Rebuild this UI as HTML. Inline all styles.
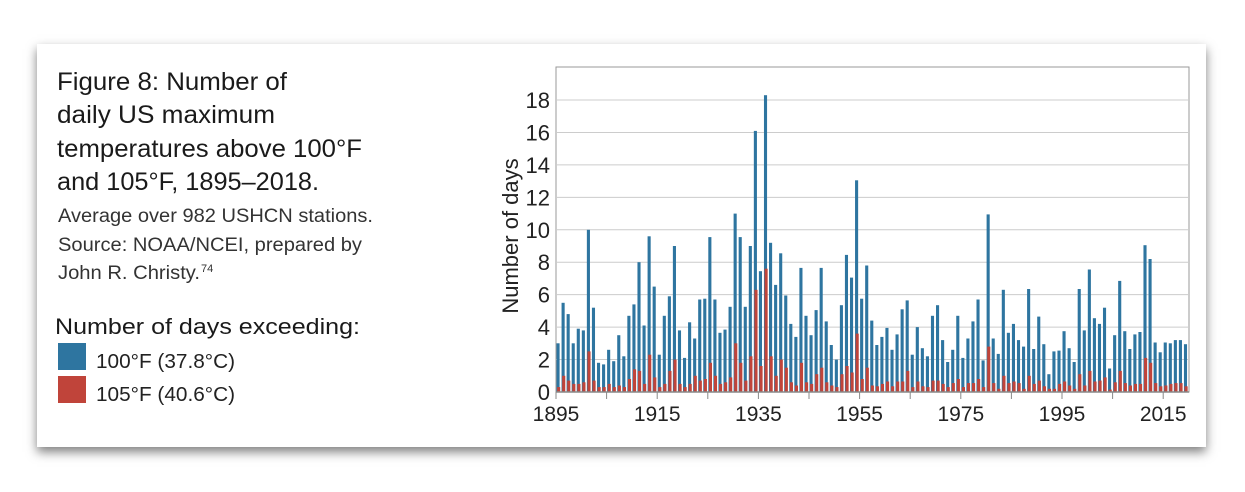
<!DOCTYPE html>
<html><head><meta charset="utf-8"><style>
body{margin:0;background:#fff;width:1245px;height:492px;overflow:hidden;font-family:"Liberation Sans",sans-serif}
.card{position:absolute;left:37px;top:44px;width:1169px;height:403px;background:#fff;box-shadow:0 5px 10px rgba(0,0,0,0.5)}
</style></head><body>
<div class="card"></div>
<svg width="1245" height="492" style="position:absolute;left:0;top:0" font-family="Liberation Sans, sans-serif">
<g fill="#1a1a1a" font-size="25">
<text x="57" y="90" textLength="230" lengthAdjust="spacingAndGlyphs">Figure 8: Number of</text>
<text x="57" y="123" textLength="218" lengthAdjust="spacingAndGlyphs">daily US maximum</text>
<text x="57" y="157" textLength="305" lengthAdjust="spacingAndGlyphs">temperatures above 100°F</text>
<text x="57" y="190" textLength="262" lengthAdjust="spacingAndGlyphs">and 105°F, 1895–2018.</text>
</g>
<g fill="#333" font-size="19">
<text x="58" y="222" textLength="315" lengthAdjust="spacingAndGlyphs">Average over 982 USHCN stations.</text>
<text x="58" y="251" textLength="304" lengthAdjust="spacingAndGlyphs">Source: NOAA/NCEI, prepared by</text>
<text x="58" y="279" textLength="142" lengthAdjust="spacingAndGlyphs">John R. Christy.</text><text x="201" y="272" font-size="11">74</text>
</g>
<text x="55" y="334" font-size="22" fill="#1a1a1a" textLength="305" lengthAdjust="spacingAndGlyphs">Number of days exceeding:</text>
<rect x="58" y="343" width="28" height="27" fill="#2e75a0"/>
<rect x="58" y="376" width="28" height="27" fill="#c0443a"/>
<g font-size="20" fill="#222"><text x="96" y="368" textLength="139" lengthAdjust="spacingAndGlyphs">100°F (37.8°C)</text><text x="96" y="401" textLength="139" lengthAdjust="spacingAndGlyphs">105°F (40.6°C)</text></g>
<g id="plot"></g>
</svg>
<script>
var B=[3.0,5.5,4.8,3.0,3.9,3.8,10.0,5.2,1.8,1.7,2.6,1.9,3.5,2.2,4.7,5.4,8.0,4.1,9.6,6.5,2.3,4.7,5.9,
9.0,3.8,2.1,4.3,3.3,5.7,5.75,9.55,5.7,3.65,3.85,5.25,11.0,9.55,5.25,9.0,16.1,7.45,18.3,9.2,6.6,8.55,5.95,4.2,3.4,7.65,4.7,3.5,5.05,7.65,4.35,2.9,2.0,5.35,8.45,7.05,13.05,5.75,7.8,
4.4,2.9,3.4,3.95,2.6,3.55,5.1,5.65,2.3,4.0,2.7,2.2,4.7,5.35,3.2,1.85,2.6,4.7,2.1,3.3,4.35,5.7,1.95,10.95,3.3,2.35,6.3,3.65,4.2,3.2,2.8,6.35,2.65,4.65,2.95,1.1,2.5,2.55,3.75,2.7,1.85,6.35,3.8,7.55,4.55,4.2,5.2,1.45,3.5,6.85,3.75,2.65,3.55,3.7,9.05,8.2,3.05,2.45,3.05,3.0,3.2,3.2,2.95];
var R=[0.3,1.0,0.7,0.5,0.5,0.6,2.5,0.7,0.3,0.3,0.5,0.3,0.4,0.3,0.8,1.4,1.3,0.5,2.3,0.9,0.3,0.5,1.3,
2.0,0.5,0.3,0.5,1.0,0.7,0.8,1.8,1.0,0.5,0.6,0.9,3.0,1.8,0.7,2.2,6.3,1.6,7.6,2.2,1.0,2.0,1.5,0.6,0.4,1.8,0.6,0.5,1.1,1.5,0.6,0.4,0.3,1.1,1.6,1.2,3.6,0.8,1.5,
0.4,0.35,0.5,0.65,0.35,0.65,0.65,1.3,0.3,0.65,0.35,0.3,0.7,0.7,0.5,0.3,0.55,0.8,0.3,0.55,0.55,0.8,0.3,2.8,0.55,0.2,1.0,0.55,0.65,0.55,0.2,1.0,0.5,0.7,0.35,0.2,0.2,0.5,0.65,0.4,0.2,1.1,0.4,1.3,0.65,0.7,0.9,0.15,0.6,1.3,0.55,0.4,0.5,0.5,2.1,1.8,0.55,0.35,0.4,0.5,0.55,0.55,0.35];
var L=556,T=67,Rt=1189,Y0=392,K=16.22,S=5.06,s='';
s+='<rect x="'+L+'" y="'+T+'" width="'+(Rt-L)+'" height="'+(Y0-T)+'" fill="#fff" stroke="#999" stroke-width="1"/>';
for(var v=2;v<=18;v+=2){var y=Y0-v*K;s+='<line x1="'+L+'" x2="'+Rt+'" y1="'+y+'" y2="'+y+'" stroke="#ccc" stroke-width="1"/>';}
for(var v=0;v<=18;v+=2){s+='<text x="550" y="'+(Y0-v*K+8)+'" text-anchor="end" font-size="22" fill="#222">'+v+'</text>';}
for(var i=0;i<B.length;i++){var x=L+0.5+i*S;
s+='<rect x="'+x.toFixed(2)+'" y="'+(Y0-B[i]*K).toFixed(1)+'" width="3.1" height="'+(B[i]*K).toFixed(1)+'" fill="#2e75a0"/>';
s+='<rect x="'+(x+0.6).toFixed(2)+'" y="'+(Y0-R[i]*K).toFixed(1)+'" width="3.1" height="'+(R[i]*K).toFixed(1)+'" fill="#c0443a"/>';}
s+='<line x1="'+L+'" x2="'+Rt+'" y1="'+Y0+'" y2="'+Y0+'" stroke="#888" stroke-width="1.5"/>';
for(var yr=1895;yr<=2015;yr+=10){var x=L+(yr-1895)*S;s+='<line x1="'+x+'" x2="'+x+'" y1="'+Y0+'" y2="'+(Y0+7)+'" stroke="#888" stroke-width="1"/>';
if((yr-1895)%20==0)s+='<text x="'+x+'" y="421" text-anchor="middle" font-size="21" fill="#222">'+yr+'</text>';}
s+='<text transform="translate(518,236) rotate(-90)" text-anchor="middle" font-size="22" fill="#222">Number of days</text>';
document.getElementById('plot').innerHTML=s;
</script>
</body></html>
